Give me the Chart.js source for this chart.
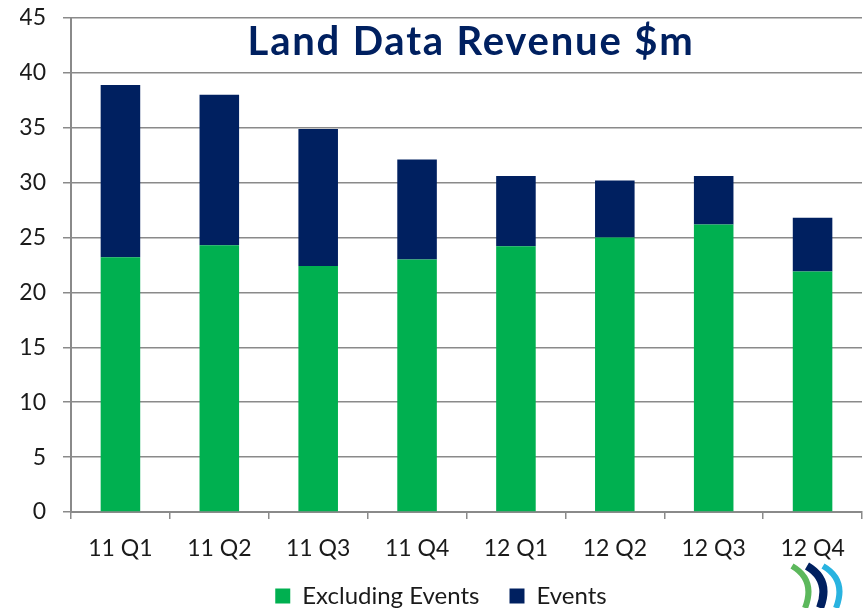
<!DOCTYPE html>
<html><head><meta charset="utf-8">
<script src="https://cdn.jsdelivr.net/npm/chart.js@4/dist/chart.umd.min.js"></script>
<style>html,body{margin:0;padding:0;background:#fff}#wrap{width:863px;height:608px;position:relative}</style>
</head><body><div id="wrap"><canvas id="c" width="863" height="608"></canvas></div>
<script>
const categories = ["11 Q1","11 Q2","11 Q3","11 Q4","12 Q1","12 Q2","12 Q3","12 Q4"];
const excludingEvents = [23.2, 24.3, 22.4, 23.0, 24.2, 25.0, 26.2, 21.9];
const events = [15.7, 13.7, 12.5, 9.1, 6.4, 5.2, 4.4, 4.9];
const yTicks = [0,5,10,15,20,25,30,35,40,45];
const titleText = "Land Data Revenue $m";

const FONT = "Lato, 'Open Sans', sans-serif";
const GRID = "#8a8a8a";

const titlePlugin = {
  id: 'innerTitle',
  beforeDraw(chart) {
    // let the category labels extend below the x-scale box (legend sits close underneath)
    if (chart.scales.x) chart.scales.x._computeLabelArea = function () { return undefined; };
  },
  afterDraw(chart) {
    const ctx = chart.ctx;
    ctx.save();
    ctx.font = "bold 40px " + FONT;
    try { ctx.letterSpacing = "1.8px"; } catch (e) {}
    ctx.fillStyle = "#002060";
    ctx.textAlign = "center";
    ctx.textBaseline = "alphabetic";
    ctx.fillText(titleText, 471, 55);
    ctx.restore();

    // small decorative logo bottom-right
    ctx.save();
    ctx.lineCap = "butt";
    const arcs = [
      { c: "#5cb85c", x: 792, w: 6 },
      { c: "#002060", x: 807, w: 8 },
      { c: "#29b3e0", x: 823, w: 6 }
    ];
    arcs.forEach(a => {
      ctx.beginPath();
      ctx.strokeStyle = a.c;
      ctx.lineWidth = a.w;
      ctx.moveTo(a.x, 566);
      ctx.quadraticCurveTo(a.x + 24, 580, a.x + 13, 608);
      ctx.stroke();
    });
    ctx.restore();
  }
};

new Chart(document.getElementById('c'), {
  type: 'bar',
  data: {
    labels: categories,
    datasets: [
      { label: 'Excluding Events', data: excludingEvents, backgroundColor: '#00b050', barPercentage: 0.4, categoryPercentage: 1.0 },
      { label: 'Events', data: events, backgroundColor: '#002060', barPercentage: 0.4, categoryPercentage: 1.0 }
    ]
  },
  options: {
    responsive: false,
    animation: false,
    layout: { padding: { top: 18, right: 1, left: 20, bottom: -10 } },
    plugins: {
      legend: {
        position: 'bottom',
        labels: { font: { family: FONT, size: 24 }, color: '#1a1a1a', boxWidth: 15, boxHeight: 15, padding: 30 }
      },
      tooltip: { enabled: false }
    },
    scales: {
      x: {
        stacked: true,
        grid: { drawOnChartArea: false, drawTicks: true, tickLength: 7, color: GRID, lineWidth: 1.5, offset: true },
        border: { color: GRID, width: 2 },
        ticks: { font: { family: FONT, size: 23 }, color: '#1a1a1a', padding: 16 },
        afterFit(s) { s.height = 42; }
      },
      y: {
        stacked: true,
        min: 0, max: 45,
        afterBuildTicks(s) { s.ticks = yTicks.map(v => ({ value: v })); },
        grid: { color: GRID, lineWidth: 1.5, tickLength: 8 },
        border: { color: GRID, width: 2 },
        ticks: { font: { family: FONT, size: 23 }, color: '#1a1a1a', padding: 17 },
        afterFit(s) { s.width = 51; s.paddingTop = 10; s.paddingBottom = 10; }
      }
    }
  },
  plugins: [titlePlugin]
});
</script>
</body></html>
